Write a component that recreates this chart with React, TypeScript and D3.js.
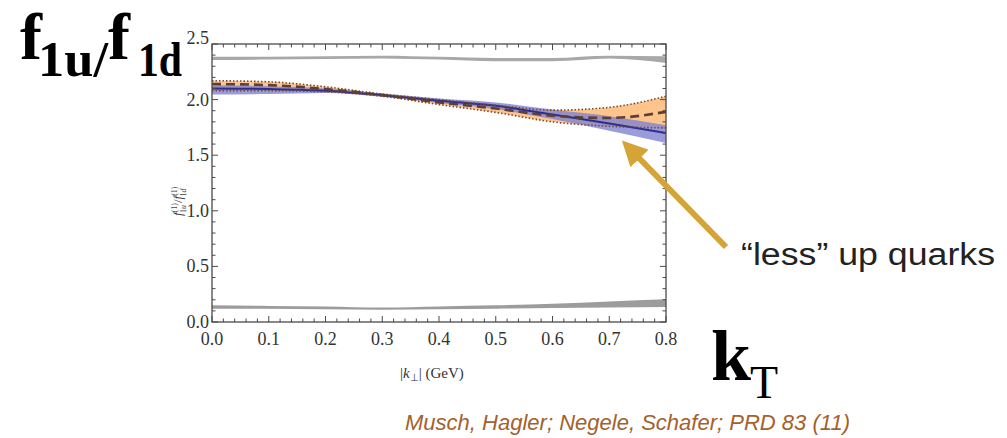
import React from "react";
import * as d3 from "d3";

const xs = [0, 0.1, 0.2, 0.3, 0.4, 0.5, 0.6, 0.7, 0.8];
const orangeTop = [2.17, 2.16, 2.115, 2.05, 2.0, 1.95, 1.905, 1.93, 2.03];
const orangeMid = [2.14, 2.13, 2.095, 2.04, 1.975, 1.92, 1.855, 1.835, 1.89];
const orangeBot = [2.08, 2.08, 2.07, 2.03, 1.955, 1.885, 1.8, 1.76, 1.745];
const blueMid = [2.1, 2.095, 2.08, 2.04, 1.99, 1.945, 1.865, 1.785, 1.7];
const blueTop = [2.13, 2.12, 2.1, 2.055, 2.01, 1.975, 1.91, 1.85, 1.77];
const blueBot = [2.045, 2.05, 2.06, 2.025, 1.97, 1.915, 1.825, 1.72, 1.61];
const grayHiTop = [2.385, 2.385, 2.39, 2.395, 2.385, 2.375, 2.375, 2.395, 2.39];
const grayHiBot = [2.355, 2.36, 2.365, 2.37, 2.36, 2.345, 2.345, 2.37, 2.33];
const grayLoTop = [0.15, 0.145, 0.14, 0.13, 0.14, 0.15, 0.165, 0.185, 0.205];
const grayLoBot = [0.12, 0.12, 0.115, 0.11, 0.115, 0.12, 0.125, 0.13, 0.135];

const xTickLabels = ["0.0", "0.1", "0.2", "0.3", "0.4", "0.5", "0.6", "0.7", "0.8"];
const yTickLabels = ["0.0", "0.5", "1.0", "1.5", "2.0", "2.5"];

const L = 212, R = 666, T = 44, B = 322;

export default function App() {
  const x = d3.scaleLinear().domain([0, 0.8]).range([L, R]);
  const y = d3.scaleLinear().domain([0, 2.5]).range([B, T]);
  const curve = d3.curveMonotoneX;
  const band = (lo: number[], hi: number[]) =>
    d3.area<number>().x((_, i) => x(xs[i])).y0((_, i) => y(lo[i])).y1((_, i) => y(hi[i])).curve(curve)(xs) || "";
  const line = (v: number[]) =>
    d3.line<number>().x((_, i) => x(xs[i])).y((_, i) => y(v[i])).curve(curve)(xs) || "";

  const xMinor = d3.range(0, 0.8001, 0.02);
  const yMinor = d3.range(0, 2.5001, 0.1);
  const frame = "#4a4a4a";
  const tickFont = "'Liberation Serif', 'Times New Roman', serif";
  const sans = "'Liberation Sans', Arial, sans-serif";

  return (
    <svg width={1007} height={438} style={{ position: "absolute", left: 0, top: 0, background: "#fff" }}>
      <defs>
        <clipPath id="plotclip">
          <rect x={L} y={T} width={R - L} height={B - T} />
        </clipPath>
        <marker id="ah" viewBox="0 0 10 10" refX="2" refY="5" markerWidth="4.2" markerHeight="4.2" orient="auto-start-reverse">
          <path d="M0,0 L10,5 L0,10 z" fill="#d4a536" />
        </marker>
      </defs>

      <g clipPath="url(#plotclip)">
        <path d={band(grayHiBot, grayHiTop)} fill="#a8a8a8" />
        <path d={band(grayLoBot, grayLoTop)} fill="#9c9c9c" />
        <path d={band(orangeBot, orangeTop)} fill="#fdc58c" />
        <path d={band(blueBot, blueTop)} fill="#7f82d2" fillOpacity={0.8} />
        <path d={line(blueMid)} fill="none" stroke="#2b2f8f" strokeWidth={2} />
        <path d={line(orangeTop)} fill="none" stroke="#7a4a30" strokeWidth={1.6} strokeDasharray="1.5,2" />
        <path d={line(orangeBot)} fill="none" stroke="#7a4a30" strokeWidth={1.6} strokeDasharray="1.5,2" />
        <path d={line(orangeMid)} fill="none" stroke="#5e3f33" strokeWidth={2.6} strokeDasharray="9,5" />
      </g>

      {/* frame */}
      <rect x={L} y={T} width={R - L} height={B - T} fill="none" stroke={frame} strokeWidth={1.3} />
      {xMinor.map((v, i) => {
        const major = i % 5 === 0;
        const len = major ? 6 : 3.5;
        return (
          <g key={"xt" + i} stroke={frame} strokeWidth={1}>
            <line x1={x(v)} x2={x(v)} y1={B} y2={B - len} />
            <line x1={x(v)} x2={x(v)} y1={T} y2={T + len} />
          </g>
        );
      })}
      {yMinor.map((v, i) => {
        const major = i % 5 === 0;
        const len = major ? 6 : 3.5;
        return (
          <g key={"yt" + i} stroke={frame} strokeWidth={1}>
            <line x1={L} x2={L + len} y1={y(v)} y2={y(v)} />
            <line x1={R} x2={R - len} y1={y(v)} y2={y(v)} />
          </g>
        );
      })}

      {xTickLabels.map((t) => (
        <text key={"xl" + t} x={x(+t)} y={345} textAnchor="middle" fontFamily={tickFont} fontSize={18} fill="#333">
          {t}
        </text>
      ))}
      {yTickLabels.map((t) => (
        <text key={"yl" + t} x={209} y={y(+t) + (t === "2.5" ? 0 : 6)} textAnchor="end" fontFamily={tickFont} fontSize={18} fill="#333">
          {t}
        </text>
      ))}

      {/* axis titles */}
      <text x={400} y={378} fontFamily={tickFont} fontSize={15} fill="#333">
        |<tspan fontStyle="italic">k</tspan>
        <tspan fontSize={10} dy={3}>⊥</tspan>
        <tspan dy={-3}>|  (GeV)</tspan>
      </text>
      <text transform="translate(182,216) rotate(-90)" fontFamily={tickFont} fontSize={13} fill="#444">
        <tspan fontStyle="italic">f</tspan>
        <tspan fontSize={8} dy={-5}>(1)</tspan>
        <tspan fontSize={8} dx={-10} dy={9}>1</tspan>
        <tspan fontSize={8} fontStyle="italic">u</tspan>
        <tspan dy={-4} dx={2}>/</tspan>
        <tspan fontStyle="italic">f</tspan>
        <tspan fontSize={8} dy={-5}>(1)</tspan>
        <tspan fontSize={8} dx={-10} dy={9}>1</tspan>
        <tspan fontSize={8} fontStyle="italic">d</tspan>
      </text>

      {/* big labels */}
      <text fontFamily={tickFont} fontWeight="bold" fill="#000" fontSize={66} y={59}>
        <tspan x={20}>f</tspan>
        <tspan x={38} dy={17} fontSize={50} textLength={70} lengthAdjust="spacingAndGlyphs">1u/</tspan>
        <tspan x={108} dy={-17}>f</tspan>
        <tspan x={138} dy={17} fontSize={48} textLength={44} lengthAdjust="spacingAndGlyphs">1d</tspan>
      </text>
      <text fontFamily={tickFont} fontWeight="bold" fill="#000" fontSize={72} y={380}>
        <tspan x={711}>k</tspan>
        <tspan x={750} dy={18} fontSize={46} fontWeight="normal">T</tspan>
      </text>

      {/* annotation */}
      <line x1={726} y1={247} x2={636} y2={155} stroke="#d4a536" strokeWidth={6} markerEnd="url(#ah)" />
      <text x={741} y={265} fontFamily={sans} fontSize={31} fill="#222" textLength={254} lengthAdjust="spacingAndGlyphs">
        “less” up quarks
      </text>

      <text x={405} y={430} fontFamily={sans} fontStyle="italic" fontSize={22} fill="#a3622b" textLength={445} lengthAdjust="spacingAndGlyphs">
        Musch, Hagler; Negele, Schafer; PRD 83 (11)
      </text>
    </svg>
  );
}
